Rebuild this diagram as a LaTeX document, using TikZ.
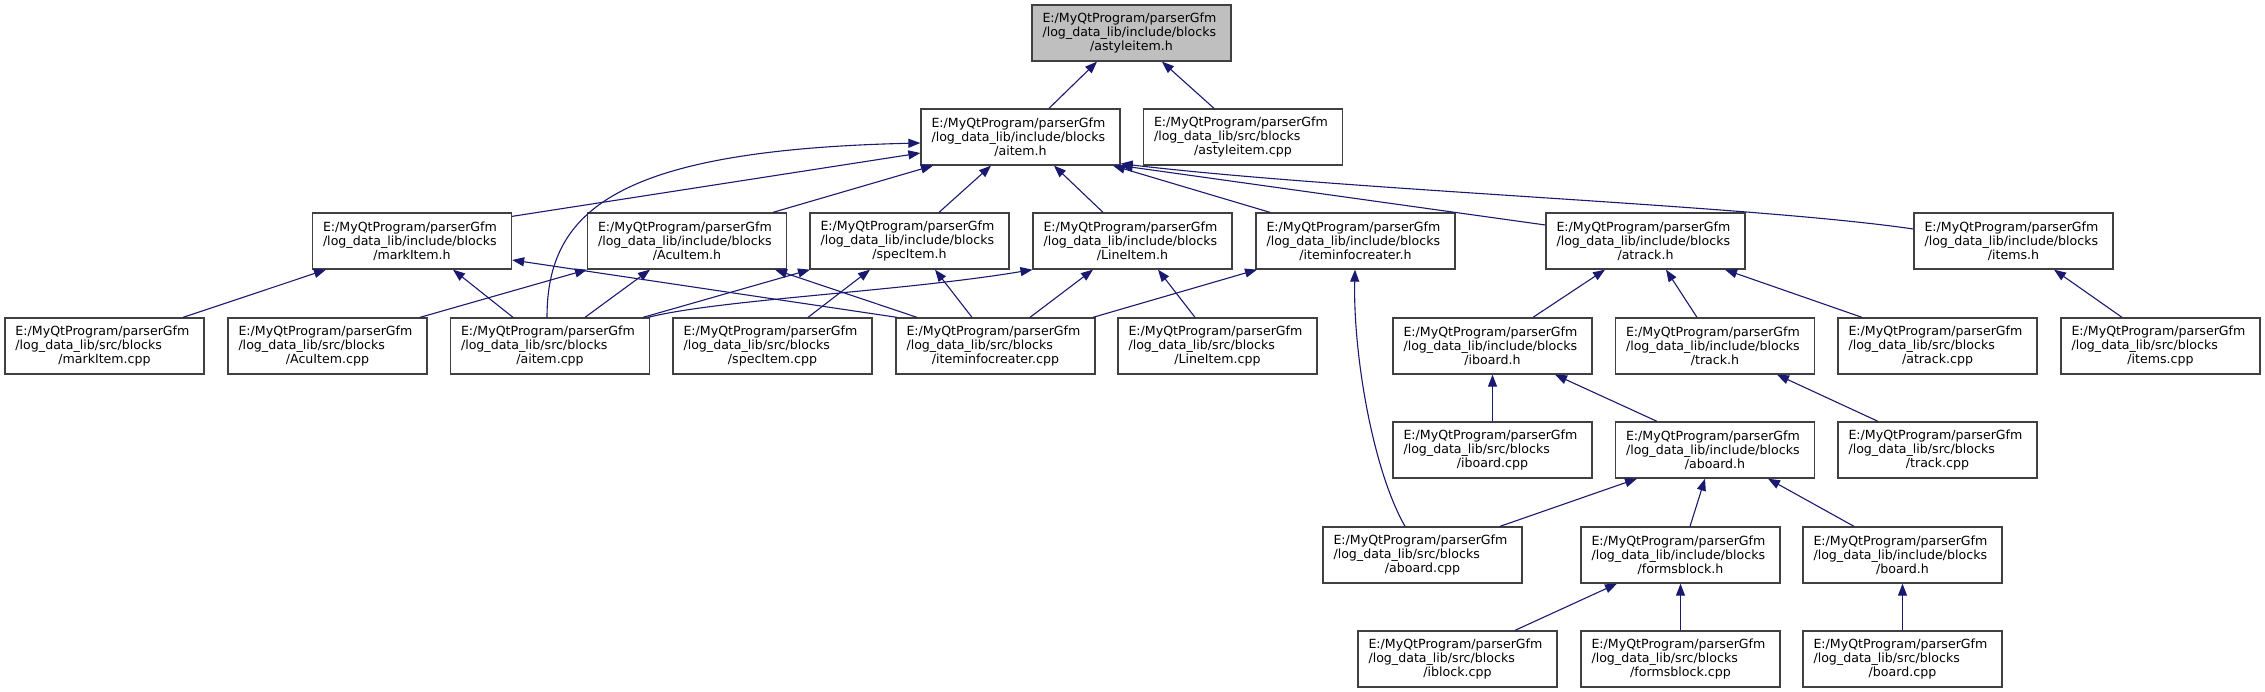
\documentclass[tikz,border=0pt]{standalone}
\usepackage{fontspec}
\setmainfont{DejaVu Sans}
\usetikzlibrary{arrows.meta}
\definecolor{edgeblue}{HTML}{191970}
\definecolor{boxborder}{HTML}{404040}
\definecolor{topfill}{HTML}{BFBFBF}
\newcommand{\pathlbl}[2]{E:/MyQtProgram/parserGfm\\/log\_data\_lib/#1/blocks\\\makebox[\linewidth][c]{/#2}}
\begin{document}
\begin{tikzpicture}[x=1pt,y=-1pt,
  file/.style={draw=boxborder, line width=1.3pt, fill=white, rectangle,
    minimum width=199pt, minimum height=56pt, text width=178pt,
    inner xsep=10.5pt, inner ysep=0pt, align=left,
    font=\fontsize{12.6}{14}\selectfont},
  dep/.style={draw=edgeblue, line width=1.1pt, -{Triangle[length=12pt,width=9pt]}}
]
\useasboundingbox (0,0) rectangle (2265,691);

% row 1
\node[file, fill=topfill] (astyleitemh) at (1131.5,33) {\pathlbl{include}{astyleitem.h}};
% row 2
\node[file] (aitemh) at (1020.5,137) {\pathlbl{include}{aitem.h}};
\node[file] (astyleitemcpp) at (1243,137) {\pathlbl{src}{astyleitem.cpp}};
% row 3
\node[file] (markItemh) at (412,241) {\pathlbl{include}{markItem.h}};
\node[file] (AcuItemh) at (687,241) {\pathlbl{include}{AcuItem.h}};
\node[file] (specItemh) at (909.5,241) {\pathlbl{include}{specItem.h}};
\node[file] (LineItemh) at (1132.5,241) {\pathlbl{include}{LineItem.h}};
\node[file] (iteminfoh) at (1355.5,241) {\pathlbl{include}{iteminfocreater.h}};
\node[file] (atrackh) at (1645.5,241) {\pathlbl{include}{atrack.h}};
\node[file] (itemsh) at (2013.5,241) {\pathlbl{include}{items.h}};
% row 4
\node[file] (markItemcpp) at (104.5,346) {\pathlbl{src}{markItem.cpp}};
\node[file] (AcuItemcpp) at (327.5,346) {\pathlbl{src}{AcuItem.cpp}};
\node[file] (aitemcpp) at (550,346) {\pathlbl{src}{aitem.cpp}};
\node[file] (specItemcpp) at (772.5,346) {\pathlbl{src}{specItem.cpp}};
\node[file] (iteminfocpp) at (995.5,346) {\pathlbl{src}{iteminfocreater.cpp}};
\node[file] (LineItemcpp) at (1217.5,346) {\pathlbl{src}{LineItem.cpp}};
\node[file] (iboardh) at (1492.5,346) {\pathlbl{include}{iboard.h}};
\node[file] (trackh) at (1715,346) {\pathlbl{include}{track.h}};
\node[file] (atrackcpp) at (1937.5,346) {\pathlbl{src}{atrack.cpp}};
\node[file] (itemscpp) at (2160.5,346) {\pathlbl{src}{items.cpp}};
% row 5
\node[file] (iboardcpp) at (1492.5,450) {\pathlbl{src}{iboard.cpp}};
\node[file] (aboardh) at (1715,450) {\pathlbl{include}{aboard.h}};
\node[file] (trackcpp) at (1937.5,450) {\pathlbl{src}{track.cpp}};
% row 6
\node[file] (aboardcpp) at (1422.5,555) {\pathlbl{src}{aboard.cpp}};
\node[file] (formsblockh) at (1680.5,555) {\pathlbl{include}{formsblock.h}};
\node[file] (boardh) at (1902.5,555) {\pathlbl{include}{board.h}};
% row 7
\node[file] (iblockcpp) at (1457.5,659) {\pathlbl{src}{iblock.cpp}};
\node[file] (formsblockcpp) at (1680.5,659) {\pathlbl{src}{formsblock.cpp}};
\node[file] (boardcpp) at (1902.5,659) {\pathlbl{src}{board.cpp}};

% edges
\draw[dep] ([xshift=28.5pt]aitemh.north) -- ([xshift=-34.5pt]astyleitemh.south);
\draw[dep] ([xshift=-29pt]astyleitemcpp.north) -- ([xshift=30.5pt]astyleitemh.south);

\draw[dep] ([yshift=-4pt]markItemh.north east) -- ([yshift=-16pt]aitemh.west);
\draw[dep] ([xshift=86pt]AcuItemh.north) -- ([xshift=-87.5pt]aitemh.south);
\draw[dep] ([xshift=29.5pt]specItemh.north) -- ([xshift=-29.5pt]aitemh.south);
\draw[dep] ([xshift=-29.5pt]LineItemh.north) -- ([xshift=33.5pt]aitemh.south);
\draw[dep] ([xshift=-85.5pt]iteminfoh.north) -- ([xshift=92.5pt]aitemh.south);
\draw[dep] ([yshift=16pt]atrackh.west) -- (aitemh.south east);
\draw[dep] ([yshift=12pt]itemsh.west) .. controls +(-164,-24) and +(227,27) .. ([yshift=2pt]aitemh.south east);
\draw[dep] ([xshift=-3pt]aitemcpp.north) .. controls +(0,-108) and +(-302,7) .. ([yshift=-6pt]aitemh.west);

\draw[dep] ([xshift=78.5pt]markItemcpp.north) -- ([xshift=-86pt]markItemh.south);
\draw[dep] ([xshift=-37pt]aitemcpp.north) -- ([xshift=41pt]markItemh.south);
\draw[dep] ([xshift=-98.5pt]iteminfocpp.north) -- ([yshift=-19pt]markItemh.east);
\draw[dep] ([xshift=92.5pt]AcuItemcpp.north) -- ([xshift=-100pt]AcuItemh.south);
\draw[dep] ([xshift=35pt]aitemcpp.north) -- ([xshift=-37pt]AcuItemh.south);
\draw[dep] ([xshift=-78.5pt]iteminfocpp.north) -- ([xshift=88pt]AcuItemh.south);
\draw[dep] ([xshift=93pt]aitemcpp.north) -- ([xshift=-99.5pt]specItemh.south);
\draw[dep] ([xshift=35.5pt]specItemcpp.north) -- ([xshift=-39.5pt]specItemh.south);
\draw[dep] ([xshift=-23.5pt]iteminfocpp.north) -- ([xshift=25.5pt]specItemh.south);
\draw[dep] ([xshift=98pt]aitemcpp.north) .. controls +(72,-18) and +(-132,22) .. ([xshift=-100pt]LineItemh.south);
\draw[dep] ([xshift=34.5pt]iteminfocpp.north) -- ([xshift=-39.5pt]LineItemh.south);
\draw[dep] ([xshift=-22.5pt]LineItemcpp.north) -- ([xshift=25.5pt]LineItemh.south);
\draw[dep] ([xshift=97.5pt]iteminfocpp.north) -- ([xshift=-98.5pt]iteminfoh.south);
\draw[dep] ([xshift=-17.5pt]aboardcpp.north) .. controls +(-33,-58) and +(-2,82) .. ([xshift=-0.5pt]iteminfoh.south);

\draw[dep] ([xshift=40.5pt]iboardh.north) -- ([xshift=-40.5pt]atrackh.south);
\draw[dep] ([xshift=-18pt]trackh.north) -- ([xshift=20.5pt]atrackh.south);
\draw[dep] ([xshift=-75.5pt]atrackcpp.north) -- ([xshift=79.5pt]atrackh.south);
\draw[dep] ([xshift=-38.5pt]itemscpp.north) -- ([xshift=40.5pt]itemsh.south);
\draw[dep] (iboardcpp.north) -- (iboardh.south);
\draw[dep] ([xshift=-58pt]aboardh.north) -- ([xshift=62.5pt]iboardh.south);
\draw[dep] ([xshift=-59.5pt]trackcpp.north) -- ([xshift=62pt]trackh.south);
\draw[dep] ([xshift=77.5pt]aboardcpp.north) -- ([xshift=-78pt]aboardh.south);
\draw[dep] ([xshift=9.5pt]formsblockh.north) -- ([xshift=-10pt]aboardh.south);
\draw[dep] ([xshift=-48.5pt]boardh.north) -- ([xshift=53pt]aboardh.south);
\draw[dep] ([xshift=57.5pt]iblockcpp.north) -- ([xshift=-63.5pt]formsblockh.south);
\draw[dep] (formsblockcpp.north) -- (formsblockh.south);
\draw[dep] (boardcpp.north) -- (boardh.south);
\end{tikzpicture}
\end{document}
